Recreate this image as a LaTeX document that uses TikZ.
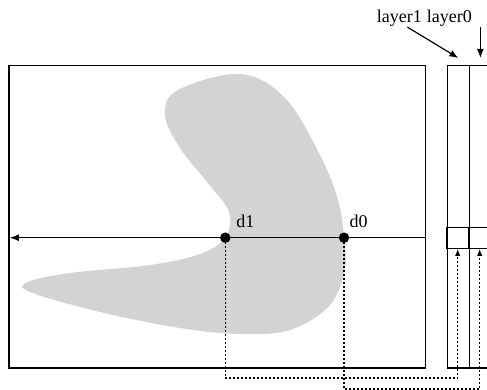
\documentclass[tikz,border=0pt]{standalone}
\usepackage{fontspec}
\setmainfont{Liberation Serif}
\usetikzlibrary{positioning,arrows.meta,calc}
\definecolor{blobclr}{RGB}{211,211,211}
\tikzset{
  frame/.style={rectangle,draw,line width=1.3pt,inner sep=0pt,anchor=north west},
  column/.style={frame,minimum width=22pt,minimum height=302.3pt},
  cell/.style={rectangle,draw,line width=1.3pt,inner sep=0pt,
               minimum width=22pt,minimum height=21pt},
  dot/.style={circle,fill,inner sep=0pt,minimum size=10.5pt},
  tag/.style={inner sep=0pt,font=\fontsize{18}{20}\selectfont},
  edge/.style={-{Latex[length=9pt,width=7pt]},line width=1.2pt},
  link/.style={edge,-{Latex[length=7pt,width=5.5pt]},dash pattern=on 2pt off 2pt},
}

\begin{document}
\begin{tikzpicture}[x=1pt,y=-1pt]
\useasboundingbox (0,0) rectangle (487,390);
\fill[blobclr] plot[smooth cycle,tension=0.6] coordinates {
  (225,238) (229,212) (207,182) (180,148) (165,115) (178,90) (240,74)
  (285,98) (320,155) (338,200) (344,238) (345,268) (330,305) (290,330)
  (240,334) (180,328) (100,312) (30,292) (28,282) (70,273) (150,265)
  (200,254)};
\node[frame, minimum width=416.7pt, minimum height=302.3pt] (frame) at (8.3,65) {};
\node[column] (col1) at (446.7,65) {};
\node[column] (col0) at (468.7,65) {};
\node[cell] (cell1) at (457.7,237.8) {};
\node[cell] (cell0) at (479.7,237.8) {};
\node[dot] (d1) at (225.3,237.7) {};
\node[dot] (d0) at (344,237.7) {};
\node[tag, above right=6pt and 7pt of d1] (d1tag) {d1};
\node[tag, above right=6pt and 1.5pt of d0] (d0tag) {d0};
\node[tag, anchor=base west] (layer1) at (376.7,23) {layer1};
\node[tag, base right=4.5pt of layer1] (layer0) {layer0};
\coordinate (low1) at (0,378);
\coordinate (low0) at (0,389);
\draw[edge, shorten >=1.5pt] (frame.east |- d1) -- (frame.west |- d1);
\draw[link] (d1.center) -- (d1 |- low1) -| (cell1.south);
\draw[link] (d0.center) -- (d0 |- low0) -| (cell0.south);
\draw[edge] ([xshift=8pt]layer1.south) -- ([yshift=7pt]col1.north);
\draw[edge] (col0.north |- layer0.south) -- ([yshift=7pt]col0.north);
\end{tikzpicture}
\end{document}
